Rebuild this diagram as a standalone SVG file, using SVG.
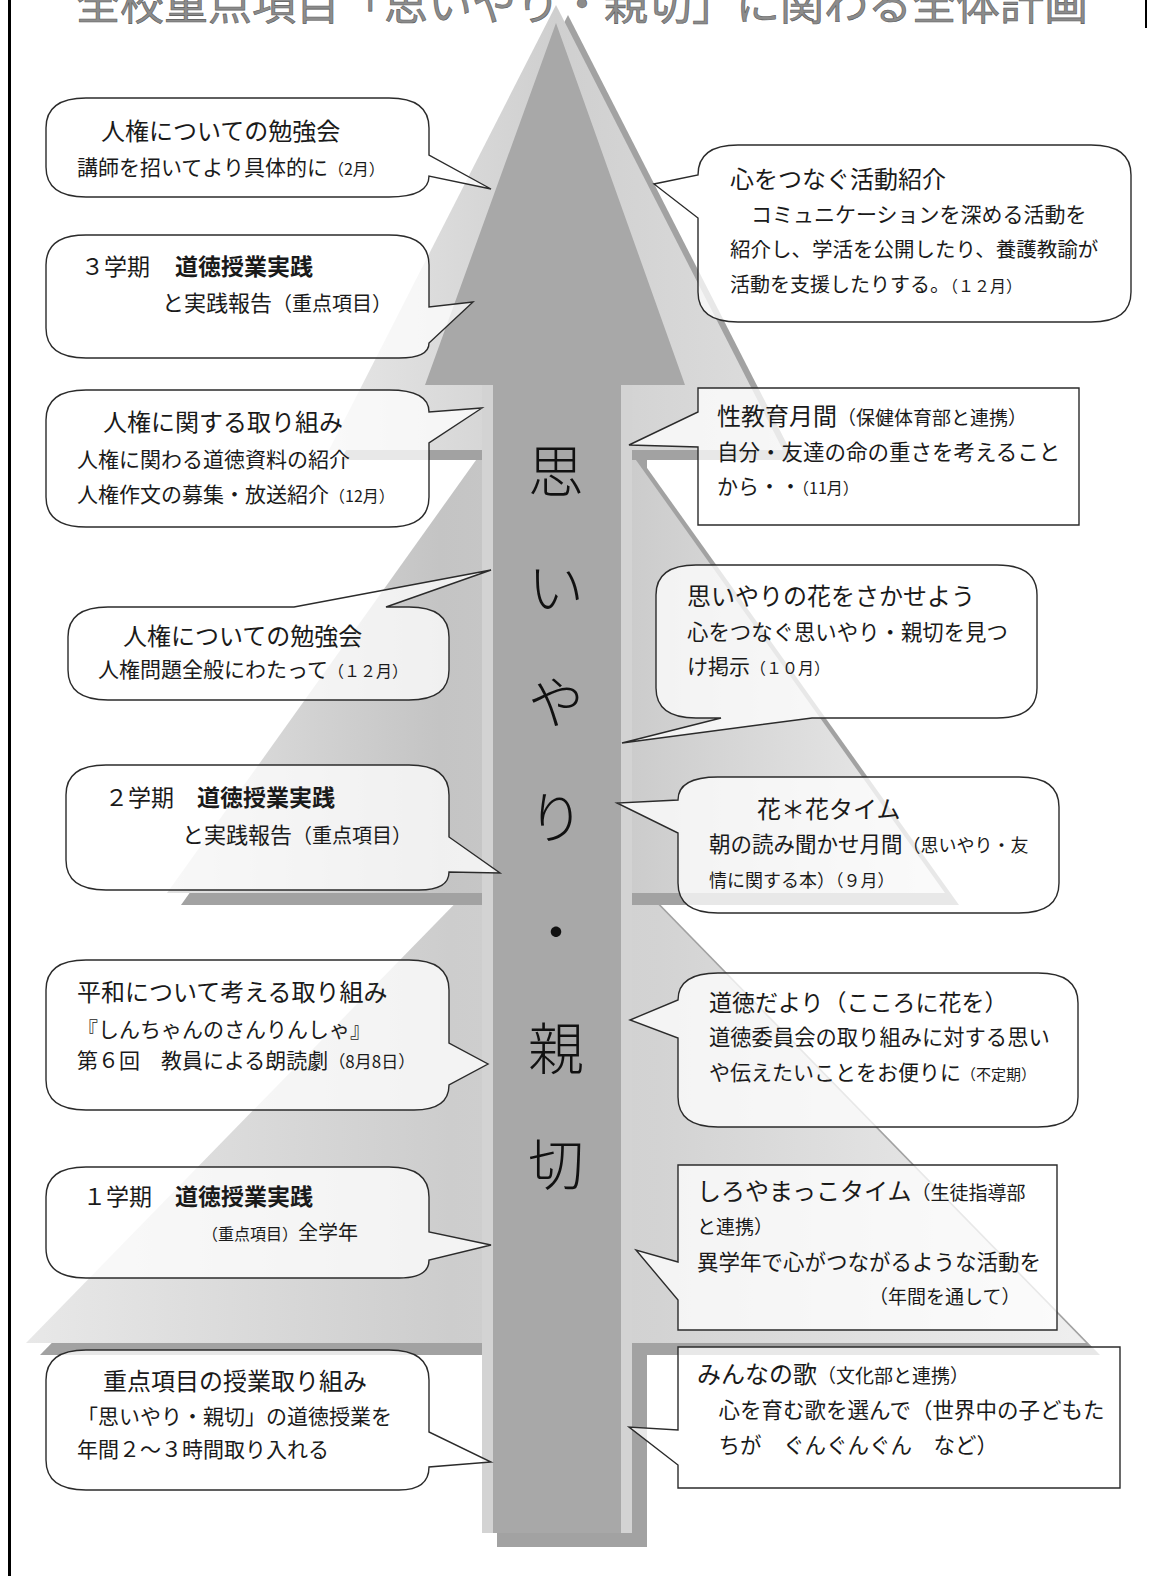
<svg xmlns="http://www.w3.org/2000/svg" width="1154" height="1576" viewBox="0 0 1154 1576">
<defs>
<linearGradient id="g1" x1="0" y1="0" x2="1" y2="0">
<stop offset="0" stop-color="#e6e6e6"/><stop offset="0.5" stop-color="#cfcfcf"/><stop offset="1" stop-color="#dddddd"/>
</linearGradient>
<linearGradient id="g2" x1="0" y1="0" x2="1" y2="0">
<stop offset="0" stop-color="#e2e2e2"/><stop offset="0.35" stop-color="#c4c4c4"/><stop offset="0.6" stop-color="#cccccc"/><stop offset="1" stop-color="#ececec"/>
</linearGradient>
<linearGradient id="g3" x1="0" y1="0" x2="1" y2="0">
<stop offset="0" stop-color="#e8e8e8"/><stop offset="0.4" stop-color="#cdcdcd"/><stop offset="0.6" stop-color="#d3d3d3"/><stop offset="1" stop-color="#efefef"/>
</linearGradient>
<style>
.shadow{fill:#a2a2a2}
.bub{fill:#ffffff;fill-opacity:0.75;stroke:#2b2b2b;stroke-width:1.4;stroke-linejoin:miter}
text{font-family:"Noto Sans CJK JP","Noto Sans CJK SC",sans-serif;fill:#1a1a1a}
.h{font-size:24px}
.m{font-size:21px}
.b{font-weight:bold}
.v{font-size:56px;text-anchor:middle;fill:#111;font-weight:300}
.title{font-size:44px;fill:#8c8c8c;stroke:#5a5a5a;stroke-width:0.6}
</style>
</defs>
<rect width="1154" height="1576" fill="#ffffff"/>
<text class="title" x="76" y="20">全校重点項目「思いやり・親切」に関わる全体計画</text>
<line x1="9.5" y1="0" x2="9.5" y2="1576" stroke="#000" stroke-width="3"/>
<line x1="1146" y1="0" x2="1146" y2="28" stroke="#000" stroke-width="2"/>
<g id="tree">
<rect class="shadow" x="497" y="400" width="150" height="1147"/>
<polygon class="shadow" points="570,812 40,1355 1100,1355"/>
<polygon fill="url(#g3)" points="556,800 26,1343 1086,1343"/>
<polygon class="shadow" points="570,360 181,905 959,905"/>
<polygon fill="url(#g2)" points="556,348 167,893 945,893"/>
<polygon class="shadow" points="568,15 341,460 795,460"/>
<polygon fill="url(#g1)" points="556,5 329,450 783,450"/>
<rect x="482" y="385" width="150" height="1148" fill="#d3d3d3"/>
<path d="M556,23 L685,385 L621,385 L621,1533 L493,1533 L493,385 L425,385 Z" fill="#a8a8a8"/>
<text class="v" x="556" y="492">思</text>
<text class="v" x="556" y="608">い</text>
<text class="v" x="556" y="723">や</text>
<text class="v" x="556" y="838">り</text>
<text class="v" x="556" y="953">・</text>
<text class="v" x="556" y="1069">親</text>
<text class="v" x="556" y="1185">切</text>
</g>
<g id="connectors"/>
<g id="L1">
<path class="bub" d="M86,98 H389 Q429,98 429,128 V155 L491,189 L429,176 Q429,197 389,197 H86 Q46,197 46,167 V128 Q46,98 86,98 Z"/>
<text class="h" x="101" y="140">人権についての勉強会</text>
<text class="m" x="77" y="175">講師を招いてより具体的に<tspan font-size="16">（2月）</tspan></text>
</g>
<g id="L2">
<path class="bub" d="M86,235 H389 Q429,235 429,265 V307 L473,302 L429,343 Q429,358 399,358 H86 Q46,358 46,328 V265 Q46,235 86,235 Z"/>
<text x="81" y="275" font-size="23">３学期</text>
<text x="175" y="275" font-size="23" class="b">道徳授業実践</text>
<text x="162" y="311" font-size="22">と実践報告<tspan font-size="20">（重点項目）</tspan></text>
</g>
<g id="L3">
<path class="bub" d="M86,390 H389 Q429,390 429,412 L482,408 L429,443 V497 Q429,527 389,527 H86 Q46,527 46,497 V420 Q46,390 86,390 Z"/>
<text class="h" x="103" y="431">人権に関する取り組み</text>
<text class="m" x="77" y="467">人権に関わる道徳資料の紹介</text>
<text class="m" x="77" y="502">人権作文の募集・放送紹介<tspan font-size="16">（12月）</tspan></text>
</g>
<g id="L4">
<path class="bub" d="M108,607 H294 L491,570 L386,607 H409 Q449,607 449,637 V670 Q449,700 409,700 H108 Q68,700 68,670 V637 Q68,607 108,607 Z"/>
<text class="h" x="123" y="645">人権についての勉強会</text>
<text class="m" x="98" y="677">人権問題全般にわたって<tspan font-size="16">（１２月）</tspan></text>
</g>
<g id="L5">
<path class="bub" d="M106,765 H409 Q449,765 449,795 V837 L500,873 L449,872 Q449,890 419,890 H106 Q66,890 66,860 V795 Q66,765 106,765 Z"/>
<text x="105" y="806" font-size="23">２学期</text>
<text x="197" y="806" font-size="23" class="b">道徳授業実践</text>
<text x="182" y="843" font-size="22">と実践報告<tspan font-size="20">（重点項目）</tspan></text>
</g>
<g id="L6">
<path class="bub" d="M86,960 H409 Q449,960 449,990 V1043 L488,1064 L449,1085 Q449,1110 414,1110 H86 Q46,1110 46,1080 V990 Q46,960 86,960 Z"/>
<text class="h" x="77" y="1001">平和について考える取り組み</text>
<text class="m" x="77" y="1037">『しんちゃんのさんりんしゃ』</text>
<text class="m" x="77" y="1068">第６回　教員による朗読劇<tspan font-size="17">（8月8日）</tspan></text>
</g>
<g id="L7">
<path class="bub" d="M86,1167 H389 Q429,1167 429,1197 V1232 L491,1245 L429,1260 Q429,1278 399,1278 H86 Q46,1278 46,1248 V1197 Q46,1167 86,1167 Z"/>
<text x="83" y="1205" font-size="23">１学期</text>
<text x="175" y="1205" font-size="23" class="b">道徳授業実践</text>
<text x="202" y="1240" font-size="16">（重点項目）<tspan font-size="20">全学年</tspan></text>
</g>
<g id="L8">
<path class="bub" d="M86,1350 H389 Q429,1350 429,1380 V1432 L491,1462 L429,1467 Q429,1490 399,1490 H86 Q46,1490 46,1460 V1380 Q46,1350 86,1350 Z"/>
<text class="h" x="103" y="1390">重点項目の授業取り組み</text>
<text class="m" x="77" y="1424">「思いやり・親切」の道徳授業を</text>
<text class="m" x="77" y="1457">年間２～３時間取り入れる</text>
</g>
<g id="R1">
<path class="bub" d="M738,145 H1091 Q1131,145 1131,175 V292 Q1131,322 1091,322 H738 Q698,322 698,292 V218 L654,184 L698,175 Q698,145 738,145 Z"/>
<text class="h" x="730" y="188">心をつなぐ活動紹介</text>
<text class="m" x="730" y="222">　コミュニケーションを深める活動を</text>
<text x="730" y="257" font-size="20.5">紹介し、学活を公開したり、養護教諭が</text>
<text x="730" y="292" font-size="20">活動を支援したりする。<tspan font-size="16">（１２月）</tspan></text>
</g>
<g id="R2">
<path class="bub" d="M698,388 H1079 V525 H698 V447 L629,445 L698,412 Z"/>
<text class="h" x="717" y="425">性教育月間<tspan font-size="19">（保健体育部と連携）</tspan></text>
<text x="717" y="460" font-size="21.5">自分・友達の命の重さを考えること</text>
<text class="m" x="717" y="494">から・・<tspan font-size="16">（11月）</tspan></text>
</g>
<g id="R3">
<path class="bub" d="M696,565 H997 Q1037,565 1037,595 V688 Q1037,718 997,718 H812 L622,743 L721,718 H696 Q656,718 656,688 V595 Q656,565 696,565 Z"/>
<text class="h" x="687" y="605">思いやりの花をさかせよう</text>
<text x="687" y="640" font-size="21.4">心をつなぐ思いやり・親切を見つ</text>
<text class="m" x="687" y="674">け掲示<tspan font-size="16">（１０月）</tspan></text>
</g>
<g id="R4">
<path class="bub" d="M718,777 H1019 Q1059,777 1059,807 V883 Q1059,913 1019,913 H718 Q678,913 678,883 V833 L617,803 L678,800 Q678,777 718,777 Z"/>
<text class="h" x="757" y="818">花＊花タイム</text>
<text x="709" y="852" font-size="21.5">朝の読み聞かせ月間<tspan font-size="18">（思いやり・友</tspan></text>
<text x="709" y="887" font-size="18">情に関する本）<tspan font-size="17">（９月）</tspan></text>
</g>
<g id="R5">
<path class="bub" d="M718,973 H1038 Q1078,973 1078,1003 V1097 Q1078,1127 1038,1127 H718 Q678,1127 678,1097 V1038 L630,1020 L678,1000 Q678,973 718,973 Z"/>
<text x="709" y="1011" font-size="23">道徳だより（こころに花を）</text>
<text x="709" y="1045" font-size="21.3">道徳委員会の取り組みに対する思い</text>
<text x="709" y="1080" font-size="21">や伝えたいことをお便りに<tspan font-size="15">（不定期）</tspan></text>
</g>
<g id="R6">
<path class="bub" d="M678,1165 H1057 V1330 H678 V1300 L636,1250 L678,1262 Z"/>
<text class="h" x="697" y="1200">しろやまっこタイム<tspan font-size="19">（生徒指導部</tspan></text>
<text x="697" y="1234" font-size="19">と連携）</text>
<text x="697" y="1270" font-size="21.5">異学年で心がつながるような活動を</text>
<text x="869" y="1304" font-size="19">（年間を通して）</text>
</g>
<g id="R7">
<path class="bub" d="M678,1347 H1120 V1488 H678 V1465 L629,1427 L678,1430 Z"/>
<text class="h" x="697" y="1383">みんなの歌<tspan font-size="19">（文化部と連携）</tspan></text>
<text x="697" y="1418" font-size="21.5">　心を育む歌を選んで（世界中の子どもた</text>
<text x="697" y="1453" font-size="21.5">　ちが　ぐんぐんぐん　など）</text>
</g>
</svg>
